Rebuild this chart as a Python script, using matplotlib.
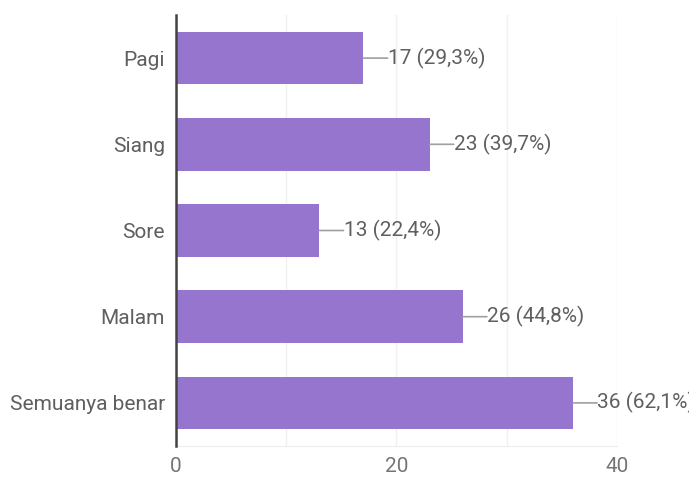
import matplotlib.pyplot as plt

plt.rcParams["font.family"] = ["Roboto", "DejaVu Sans"]

# ── Data ───────────────────────────────────────────────────────────────────────

categories = ["Pagi", "Siang", "Sore", "Malam", "Semuanya benar"]
counts = [17, 23, 13, 26, 36]
percents = ["29,3%", "39,7%", "22,4%", "44,8%", "62,1%"]
x_ticks = [0, 20, 40]
grid_ticks = [10, 20, 30, 40]

BAR_COLOUR = "#9575cd"
TEXT_COLOUR = "#5f5f5f"

# ── Plot ───────────────────────────────────────────────────────────────────────

fig = plt.figure(figsize=(6.89, 4.79), dpi=100)
ax = fig.add_axes([0.2554, 0.0689, 0.6401, 0.8998])

y = list(range(len(categories)))
ax.barh(y, counts, height=0.61, color=BAR_COLOUR, zorder=3)

for g in grid_ticks:
    ax.axvline(g, color="#f0f0f0", linewidth=1, zorder=1)

# Value labels with short leader lines
for yi, c, p in zip(y, counts, percents):
    ax.annotate("", xy=(c, yi), xytext=(c + 2.2, yi),
                arrowprops=dict(arrowstyle="-", color="#a0a0a0", lw=1.2,
                                shrinkA=0, shrinkB=0), annotation_clip=False)
    ax.text(c + 2.2, yi, f"{c} ({p})", va="center", ha="left",
            fontsize=15, color=TEXT_COLOUR, clip_on=False)

ax.set_xlim(0, 40)
ax.set_ylim(4.5, -0.5)
ax.set_yticks(y)
ax.set_yticklabels(categories, fontsize=15, color=TEXT_COLOUR)
ax.set_xticks(x_ticks)
ax.set_xticklabels([str(t) for t in x_ticks], fontsize=15, color="#757575")
ax.tick_params(axis="both", length=0)
ax.tick_params(axis="y", pad=8)
ax.tick_params(axis="x", pad=8)

for side in ["top", "right"]:
    ax.spines[side].set_visible(False)
ax.spines["bottom"].set_color("#ececec")
ax.spines["left"].set_color("#424242")
ax.spines["left"].set_linewidth(1.8)
ax.spines["left"].set_zorder(4)

plt.savefig("out.png", dpi=100)
plt.close()
